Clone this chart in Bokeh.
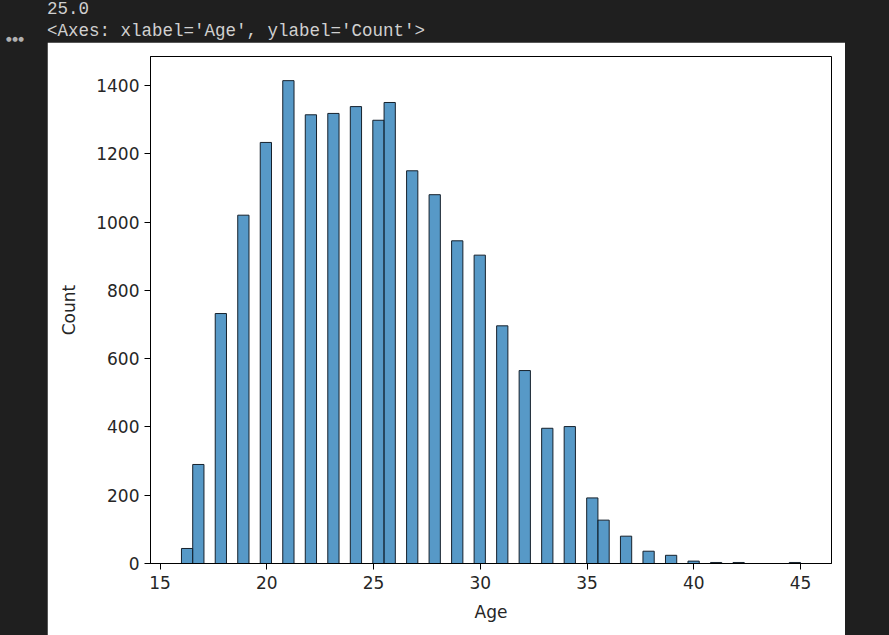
import numpy as np
from bokeh.plotting import figure
from bokeh.models import Range1d, FixedTicker, Div
from bokeh.layouts import column, row
from bokeh.embed import file_html
from bokeh.resources import INLINE

# ---- data ----
ages = [16, 17, 18, 19, 20, 21, 22, 23, 24, 25, 26, 27, 28, 29, 30,
        31, 32, 33, 34, 35, 36, 37, 38, 39, 40, 41, 42, 43, 44, 45]
counts = [44, 290, 732, 1020, 1233, 1414, 1314, 1318, 1338, 1298, 1350, 1150, 1080, 945, 903,
          696, 565, 396, 401, 192, 127, 80, 36, 24, 7, 3, 3, 0, 0, 3]
n_bins = 55
x_ticks = [15, 20, 25, 30, 35, 40, 45]
y_ticks = [0, 200, 400, 600, 800, 1000, 1200, 1400]
printed_value = "25.0"
repr_line = "<Axes: xlabel='Age', ylabel='Count'>"

# histogram through numpy (same binning as seaborn 'auto' result: 55 bins)
hist, edges = np.histogram(ages, bins=n_bins, weights=counts)
mask = hist > 0
left = edges[:-1][mask]
right = edges[1:][mask]
top = hist[mask]

span = edges[-1] - edges[0]
x0 = edges[0] - 0.05 * span
x1 = edges[-1] + 0.05 * span
y1 = hist.max() * 1.05

p = figure(width=798, height=603, output_backend="svg", toolbar_location=None,
           x_range=Range1d(x0, x1), y_range=Range1d(0, y1),
           min_border_left=103, min_border_right=14, min_border_top=14, min_border_bottom=82)
p.background_fill_color = "white"
p.border_fill_color = "white"
p.outline_line_color = "black"
p.outline_line_width = 1
p.grid.visible = False

p.quad(left=left, right=right, bottom=0, top=top,
       fill_color="#1f77b4", fill_alpha=0.75, line_color="#16212c", line_width=1)

for ax in (p.xaxis[0], p.yaxis[0]):
    ax.major_tick_out = 6
    ax.major_tick_in = 0
    ax.minor_tick_out = 0
    ax.minor_tick_in = 0
    ax.major_label_text_font = "DejaVu Sans"
    ax.major_label_text_font_size = "17px"
    ax.major_label_text_color = "#262626"
    ax.axis_label_text_font = "DejaVu Sans"
    ax.axis_label_text_font_size = "17px"
    ax.axis_label_text_font_style = "normal"
    ax.axis_label_text_color = "#262626"
    ax.axis_line_color = "black"
    ax.major_tick_line_color = "black"

p.xaxis[0].ticker = FixedTicker(ticks=x_ticks)
p.yaxis[0].ticker = FixedTicker(ticks=y_ticks)
p.xaxis[0].axis_label = "Age"
p.yaxis[0].axis_label = "Count"
p.xaxis[0].major_label_standoff = 6
p.xaxis[0].axis_label_standoff = 10
p.yaxis[0].major_label_standoff = 5
p.yaxis[0].axis_label_standoff = 14

repr_html = repr_line.replace("<", "&lt;").replace(">", "&gt;")
top_html = (
    '<div style="position:relative;width:835px;height:32px;">'
    '<div style="position:absolute;left:42px;top:-7px;font-family:\'Liberation Mono\',monospace;'
    'font-size:17.5px;line-height:22px;color:#d0d0d0;white-space:pre;">'
    + printed_value + '<br>' + repr_html +
    '</div>'
    '<div style="position:absolute;left:1px;top:30px;font-family:\'DejaVu Sans\';font-size:6.5px;'
    'color:#b0b0b0;letter-spacing:0.5px;white-space:pre;">&#9679;&#9679;&#9679;</div>'
    '</div>'
)
top_div = Div(text=top_html, width=835, height=32)
spacer = Div(text="", width=37, height=603)

layout = column(top_div, row(spacer, p))

html = file_html(layout, INLINE)
page_style = ("<style>html,body{margin:0 !important;padding:0;background-color:#1f1f1f !important;"
              "overflow:hidden;}</style>")
html = html.replace("</head>", page_style + "</head>", 1)
open("out.html", "w").write(html)
